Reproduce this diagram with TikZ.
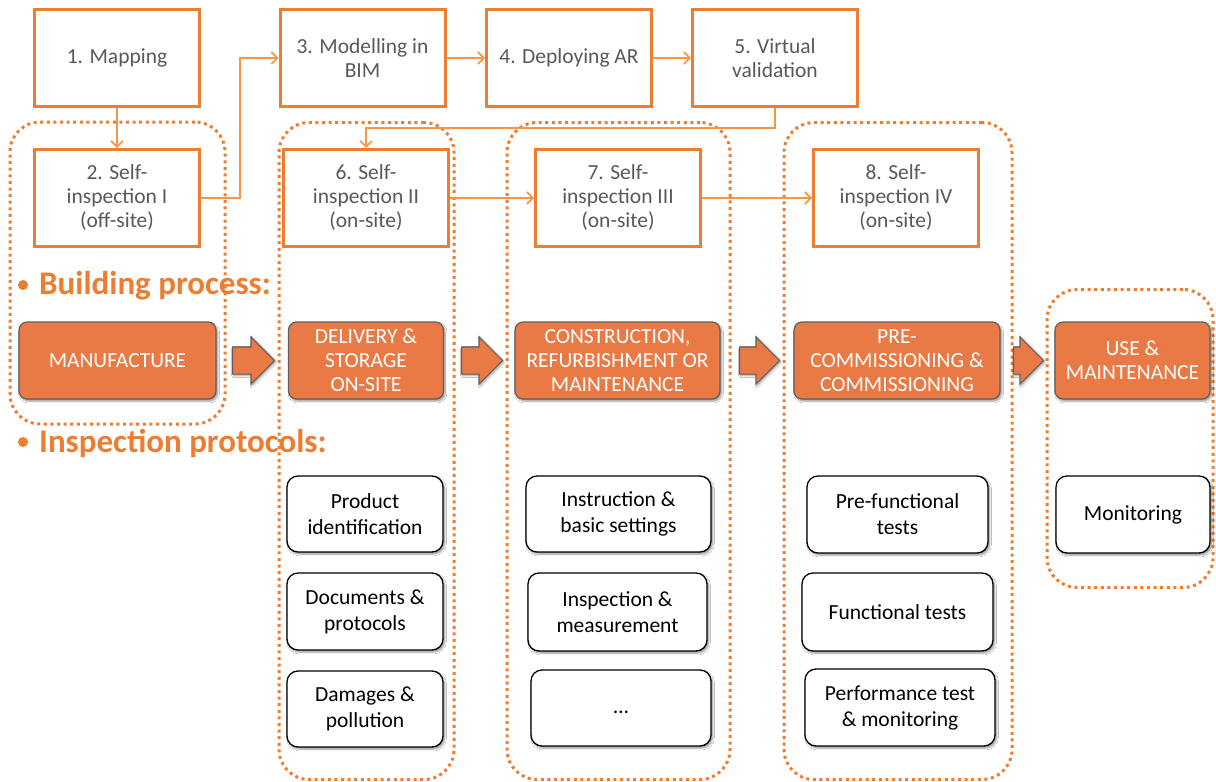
\documentclass[tikz,border=0pt]{standalone}
\usepackage{fontspec}
\setmainfont{Carlito}
\usetikzlibrary{arrows.meta,shadows,shadows.blur,shapes.arrows}
\definecolor{bord}{HTML}{ED7D31}
\definecolor{fillor}{HTML}{E97A45}
\definecolor{conn}{HTML}{F79646}
\definecolor{txtgray}{HTML}{595959}
\definecolor{edgegray}{HTML}{5F5F5F}
\begin{document}
\begin{tikzpicture}[x=1pt,y=-1pt,
  topbox/.style={draw=bord, line width=3pt, fill=white, text=txtgray, align=center, inner sep=0pt,
    minimum width=165pt, minimum height=97pt, font=\fontsize{21.5}{24}\selectfont},
  grp/.style={draw=bord, line width=3pt, dash pattern=on 3pt off 3.6pt, rounded corners=30pt, inner sep=0pt},
  procbox/.style={draw=edgegray, line width=1.2pt, fill=fillor, text=white, align=center, inner sep=0pt,
    rounded corners=8pt, minimum height=77pt, font=\fontsize{21.5}{24}\selectfont,
    blur shadow={shadow blur steps=6, shadow xshift=1.5pt, shadow yshift=-2pt, shadow opacity=45}},
  protbox/.style={draw=black, line width=1.3pt, fill=white, text=black, align=center, inner sep=0pt,
    rounded corners=11pt, minimum height=76pt, font=\fontsize{21.5}{26}\selectfont,
    blur shadow={shadow blur steps=6, shadow xshift=1.5pt, shadow yshift=-2pt, shadow opacity=45}},
  blockarrow/.style={single arrow, draw=edgegray, line width=1.2pt, fill=fillor, inner xsep=0pt, inner ysep=13pt,
    single arrow head extend=10pt, anchor=tail,
    blur shadow={shadow blur steps=5, shadow xshift=1pt, shadow yshift=-1.5pt, shadow opacity=40}},
  conline/.style={draw=conn, line width=1.6pt, -{Straight Barb[length=6pt,width=12pt,line width=1.6pt]}},
  heading/.style={text=bord, font=\fontsize{33}{36}\selectfont\bfseries, anchor=west, inner sep=0pt},
  bullet/.style={circle, fill=bord, inner sep=0pt, minimum size=10pt}
]
\useasboundingbox (0,0) rectangle (1216,782);
\fill[white] (0,0) rectangle (1216,782);

% dotted groups
\node[grp, minimum width=215pt, minimum height=302pt] (gA) at (117.5,273) {};
\node[grp, minimum width=175pt, minimum height=657pt] (gB) at (366.5,451) {};
\node[grp, minimum width=223pt, minimum height=657pt] (gC) at (618.5,451) {};
\node[grp, minimum width=228pt, minimum height=657pt] (gD) at (898,451) {};
\node[grp, minimum width=166pt, minimum height=298pt] (gE) at (1130,438.5) {};

% top boxes
\node[topbox] (b1) at (117,58) {1. Mapping};
\node[topbox] (b3) at (362.5,58) {3. Modelling in\\BIM};
\node[topbox] (b4) at (569,58) {4. Deploying AR};
\node[topbox] (b5) at (775,58) {5. Virtual\\validation};
\node[topbox] (b2) at (117,198) {2. Self-\\inspection I\\(off-site)};
\node[topbox] (b6) at (366,198) {6. Self-\\inspection II\\(on-site)};
\node[topbox] (b7) at (618,198) {7. Self-\\inspection III\\(on-site)};
\node[topbox] (b8) at (896,198) {8. Self-\\inspection IV\\(on-site)};

% connectors
\draw[conline] (b1.south) -- (b2.north);
\draw[conline] (b2.east) -- ++(39,0) |- (b3.west);
\draw[conline] (b3.east) -- (b4.west);
\draw[conline] (b4.east) -- (b5.west);
\draw[conline] (b5.south) -- ++(0,20) -| (b6.north);
\draw[conline] (b6.east) -- (b7.west);
\draw[conline] (b7.east) -- (b8.west);

% headings
\node[bullet] (bul1) at (23,285) {};
\node[heading] (hbp) at (39,286) {Building process:};
\node[bullet] (bul2) at (23,442) {};
\node[heading] (hip) at (39,443) {Inspection protocols:};

% process boxes
\node[procbox, minimum width=197pt] (p1) at (117.5,360.5) {MANUFACTURE};
\node[procbox, minimum width=155pt] (p2) at (366,360.5) {DELIVERY \&\\STORAGE\\ON-SITE};
\node[procbox, minimum width=205pt] (p3) at (617.5,360.5) {CONSTRUCTION,\\REFURBISHMENT OR\\MAINTENANCE};
\node[procbox, minimum width=206pt] (p4) at (897,360.5) {PRE-\\COMMISSIONING \&\\COMMISSIONING};
\node[procbox, minimum width=155pt] (p5) at (1132.5,360.5) {USE \&\\MAINTENANCE};

% block arrows
\node[blockarrow, minimum height=42pt] (a1) at (232,360.5) {};
\node[blockarrow, minimum height=41pt] (a2) at (461,360.5) {};
\node[blockarrow, minimum height=40pt] (a3) at (739,360.5) {};
\node[blockarrow, minimum height=30pt] (a4) at (1013,360.5) {};

% protocol boxes
\node[protbox, minimum width=156pt] (q1) at (365,514) {Product\\identification};
\node[protbox, minimum width=156pt, minimum height=77pt] (q2) at (365,611.5) {Documents \&\\protocols};
\node[protbox, minimum width=156pt] (q3) at (365,709) {Damages \&\\pollution};
\node[protbox, minimum width=185pt] (r1) at (618.5,514) {Instruction \&\\basic settings};
\node[protbox, minimum width=179pt, minimum height=78pt] (r2) at (617.5,612) {Inspection \&\\measurement};
\node[protbox, minimum width=180pt] (r3) at (621,708) {\vphantom{Ag}…};
\node[protbox, minimum width=181pt, minimum height=77pt] (s1) at (897.5,514.5) {Pre-functional\\tests};
\node[protbox, minimum width=191pt, minimum height=78pt] (s2) at (897.5,612) {Functional tests};
\node[protbox, minimum width=190pt, minimum height=77pt] (s3) at (900,707.5) {Performance test\\\& monitoring};
\node[protbox, minimum width=154pt, minimum height=77pt] (t1) at (1133,514.5) {Monitoring};
\end{tikzpicture}
\end{document}
